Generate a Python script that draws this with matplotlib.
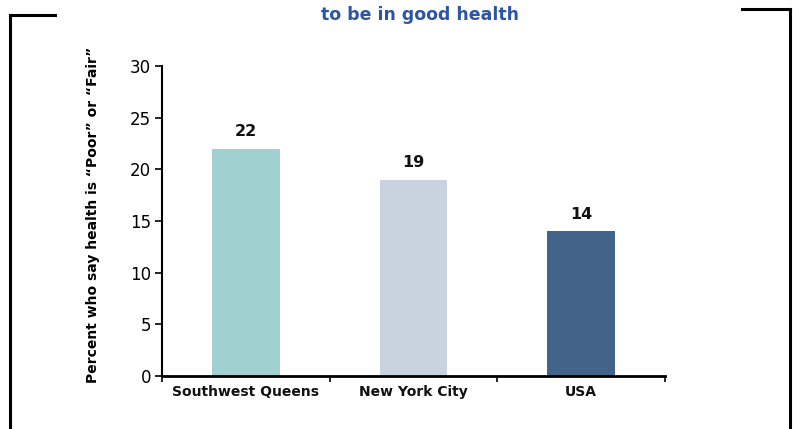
import numpy as np
import matplotlib.pyplot as plt
from matplotlib.lines import Line2D

# data
regions = ["Southwest Queens", "New York City", "USA"]
pct_poor_fair = [22, 19, 14]
bar_colors = ["#A0D1D0", "#C9D3DF", "#426488"]

W, H = 793, 429
fig = plt.figure(figsize=(W / 100, H / 100), dpi=100)
ax = fig.add_axes([162 / W, 1 - 376 / H, (665 - 162) / W, (376 - 66) / H])

x = np.arange(len(regions))
bars = ax.bar(x, pct_poor_fair, width=0.405, color=bar_colors, zorder=2)

for xi, v in zip(x, pct_poor_fair):
    ax.text(xi, v + 0.9, str(v), ha="center", va="bottom",
            fontsize=11.5, fontweight="bold", color="#111111")

ax.set_xlim(-0.5, 2.5)
ax.set_ylim(0, 30)
ax.set_yticks(range(0, 31, 5))
ax.tick_params(axis="y", labelsize=12, length=5, width=1.2, pad=3)

# category ticks at the boundaries, labels centred under bars
ax.set_xticks([-0.5, 0.5, 1.5, 2.5])
ax.set_xticklabels([])
ax.tick_params(axis="x", length=4, width=1.2)
for xi, name in zip(x, regions):
    ax.text(xi, -0.9, name, ha="center", va="top", fontsize=10,
            fontweight="bold", color="#111111",
            transform=ax.transData)

for s in ["top", "right"]:
    ax.spines[s].set_visible(False)
ax.spines["left"].set_linewidth(1.5)
ax.spines["bottom"].set_linewidth(2)

ax.set_ylabel("Percent who say health is \u201cPoor\u201d or \u201cFair\u201d",
              fontsize=10, fontweight="bold")
ax.yaxis.set_label_coords((100 - 162) / (665 - 162), 0.52)

fig.text(420 / W, 1 - 15 / H, "to be in good health", ha="center",
         va="center", fontsize=12.5, fontweight="bold", color="#2E56A0")

# frame corners
lw = 2.2
fig.add_artist(Line2D([10 / W, 10 / W], [0, 1 - 15 / H], color="black", lw=lw))
fig.add_artist(Line2D([10 / W, 55 / W], [1 - 15 / H, 1 - 15 / H], color="black", lw=lw))
fig.add_artist(Line2D([742 / W, 790 / W], [1 - 9 / H, 1 - 9 / H], color="black", lw=lw))
fig.add_artist(Line2D([790 / W, 790 / W], [0, 1 - 9 / H], color="black", lw=lw))

fig.savefig("out.png", dpi=100)
